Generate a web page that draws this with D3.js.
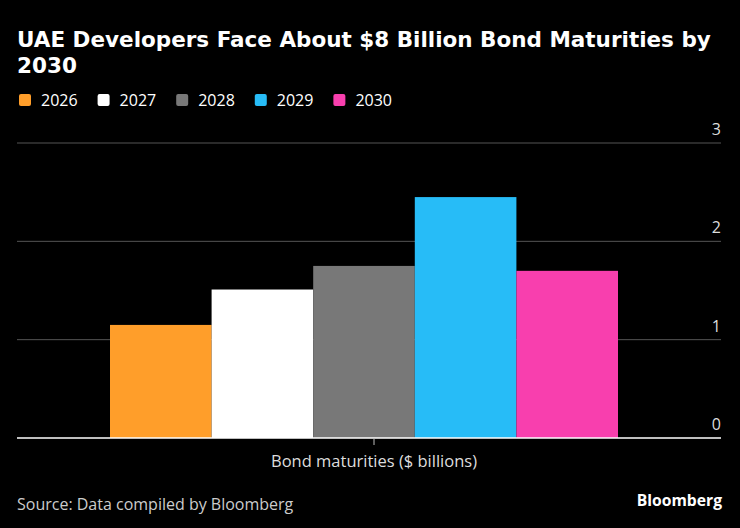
<!DOCTYPE html>
<html>
<head>
<script src="https://d3js.org/d3.v7.min.js"></script>
<style>
	body { margin: 0; background: #000; }
	svg { display: block; font-family: "Open Sans", "Noto Sans", sans-serif; }
</style>
</head>
<body>
<svg id="chart" width="740" height="528"></svg>
<script>
// chart data
var years = ["2026", "2027", "2028", "2029", "2030"];
var maturities = [1.15, 1.51, 1.75, 2.45, 1.70];
var colors = ["#ff9e2a", "#ffffff", "#787878", "#27bcf7", "#f83fae"];
var yTicks = [0, 1, 2, 3];
var category = ["Bond maturities ($ billions)"];

(function() {
	var svg = d3.select("#chart");
	var W = 740, H = 528;

	svg.append("rect").attr("width", W).attr("height", H).attr("fill", "#000");

	// title
	var title = svg.append("text")
		.attr("x", 17).attr("y", 47)
		.attr("fill", "#fff")
		.style("font-family", "'DejaVu Sans', sans-serif")
		.style("font-size", "21.5px")
		.style("font-weight", "bold");
	title.append("tspan").attr("x", 17).text("UAE Developers Face About $8 Billion Bond Maturities by");
	title.append("tspan").attr("x", 17).attr("dy", 26).text("2030");

	// legend
	var legX = 19;
	years.forEach(function(yr, i) {
		var g = svg.append("g").attr("transform", "translate(" + legX + ",94)");
		g.append("rect").attr("width", 12).attr("height", 12).attr("rx", 2)
			.attr("fill", colors[i]);
		var t = g.append("text").attr("x", 22).attr("y", 12)
			.attr("fill", "#fff").style("font-size", "16px").text(yr);
		legX += 22 + t.node().getComputedTextLength() + 20;
	});

	// scales
	var mLeft = 17, mRight = 721, mTop = 143, mBottom = 438;
	var x = d3.scaleBand().domain(category).range([mLeft, 731]).padding(0);
	var y = d3.scaleLinear().domain([0, 3]).range([mBottom, mTop]);
	var inner = d3.scaleBand().domain(years).range([110, 618]).padding(0);

	// gridlines + y labels
	svg.append("g").selectAll("line").data(yTicks.filter(function(d){ return d > 0; }))
		.join("line")
		.attr("x1", mLeft).attr("x2", mRight)
		.attr("y1", function(d){ return y(d); }).attr("y2", function(d){ return y(d); })
		.attr("stroke", "#555").attr("stroke-width", 1);

	svg.append("g").selectAll("text").data(yTicks)
		.join("text")
		.attr("x", mRight)
		.attr("y", function(d){ return y(d) - 8; })
		.attr("text-anchor", "end")
		.attr("fill", "#ddd")
		.style("font-size", "16px")
		.text(function(d){ return d; });

	// bars
	svg.append("g").selectAll("rect").data(maturities)
		.join("rect")
		.attr("x", function(d, i){ return inner(years[i]); })
		.attr("width", inner.bandwidth())
		.attr("y", function(d){ return y(d); })
		.attr("height", function(d){ return y(0) - y(d); })
		.attr("fill", function(d, i){ return colors[i]; });

	// baseline + x axis
	svg.append("line")
		.attr("x1", mLeft).attr("x2", mRight)
		.attr("y1", y(0)).attr("y2", y(0))
		.attr("stroke", "#fff").attr("stroke-width", 1.5);

	var xAxis = svg.append("g")
		.attr("transform", "translate(0," + y(0) + ")")
		.call(d3.axisBottom(x).tickSize(7).tickPadding(10));
	xAxis.select(".domain").remove();
	xAxis.selectAll("line").attr("stroke", "#bbb");
	xAxis.selectAll("text")
		.attr("fill", "#ddd")
		.style("font-size", "16.5px")
		.style("font-family", "'Open Sans', 'Noto Sans', sans-serif");

	// footer
	svg.append("text")
		.attr("x", 17).attr("y", 510)
		.attr("fill", "#ccc")
		.style("font-size", "16px")
		.text("Source: Data compiled by Bloomberg");

	svg.append("text")
		.attr("x", 722).attr("y", 506)
		.attr("text-anchor", "end")
		.attr("fill", "#fff")
		.style("font-size", "15.7px")
		.style("font-weight", "bold")
		.text("Bloomberg");
})();
</script>
</body>
</html>
